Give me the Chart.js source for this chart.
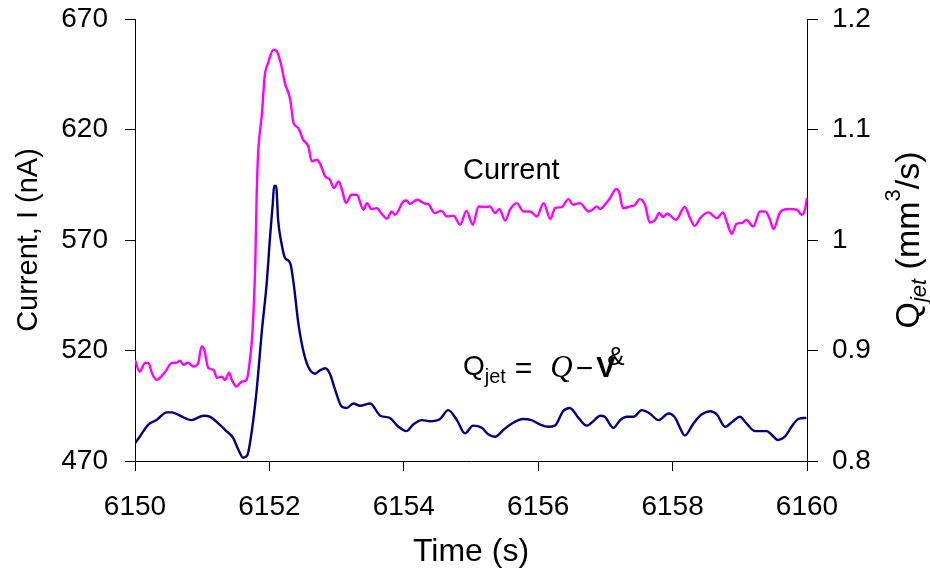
<!DOCTYPE html>
<html>
<head>
<meta charset="utf-8">
<script src="https://cdn.jsdelivr.net/npm/chart.js@4.4.1/dist/chart.umd.min.js"></script>
<style>
html,body{margin:0;padding:0;background:#ffffff;}
#wrap{width:930px;height:576px;}
</style>
</head>
<body>
<div id="wrap"><canvas id="c" width="930" height="576"></canvas></div>
<script>
// ---- Data ----
const currentTime = [
  6150.00,6150.07,6150.15,6150.20,6150.25,6150.32,6150.37,6150.45,6150.55,6150.62,
  6150.67,6150.72,6150.79,6150.87,6150.94,6150.99,6151.03,6151.09,6151.17,6151.22,
  6151.29,6151.34,6151.40,6151.44,6151.51,6151.59,6151.66,6151.71,6151.75,6151.79,
  6151.81,6151.83,6151.89,6151.93,6151.98,6152.06,6152.11,6152.18,6152.23,6152.31,
  6152.36,6152.43,6152.50,6152.58,6152.63,6152.70,6152.75,6152.83,6152.90,6152.96,
  6153.03,6153.08,6153.14,6153.22,6153.30,6153.40,6153.45,6153.52,6153.60,6153.67,
  6153.75,6153.82,6153.87,6153.99,6154.04,6154.09,6154.20,6154.32,6154.36,6154.46,
  6154.56,6154.64,6154.74,6154.84,6154.93,6155.03,6155.11,6155.21,6155.28,6155.36,
  6155.42,6155.51,6155.58,6155.68,6155.78,6155.88,6155.98,6156.08,6156.18,6156.25,
  6156.35,6156.45,6156.52,6156.62,6156.75,6156.82,6156.87,6156.92,6156.99,6157.07,
  6157.16,6157.21,6157.26,6157.37,6157.44,6157.51,6157.59,6157.66,6157.74,6157.80,
  6157.86,6157.92,6158.05,6158.18,6158.26,6158.33,6158.41,6158.53,6158.66,6158.75,
  6158.81,6158.88,6158.95,6159.03,6159.10,6159.20,6159.30,6159.38,6159.45,6159.50,
  6159.60,6159.72,6159.85,6159.92,6159.97,6160.00
];
const currentValues = [
  515.7,510.4,514.4,514.4,509.9,506.7,507.6,510.4,514.4,514.5,
  515.4,513.5,514.5,512.7,514.2,521.8,520.3,512.1,511.2,507.6,
  508.2,506.7,509.9,506.7,503.7,505.9,506.7,515.7,529.3,559.7,
  589.7,607.8,627.6,644.1,650.1,656.1,655.4,648.6,641.1,633.5,
  622.9,620.7,615.4,612.3,605.6,606.3,604.8,598.8,597.3,593.5,
  596.5,592.7,586.7,590.5,590.5,583.7,586.7,584.0,584.4,581.9,
  579.6,582.9,581.4,587.4,587.9,586.3,588.2,586.4,586.3,582.2,
  583.2,580.6,581.0,576.9,583.2,576.9,585.2,584.9,585.2,582.2,
  584.0,578.8,583.7,586.7,582.9,582.9,580.6,586.7,579.5,584.4,
  584.9,588.5,585.9,586.7,582.9,584.0,585.2,584.0,585.9,589.0,
  593.1,591.2,584.4,585.2,585.9,588.5,585.9,577.9,579.1,582.2,
  580.4,581.9,579.1,584.9,579.9,576.4,579.9,582.5,579.9,582.5,
  577.9,572.8,577.3,577.7,579.1,576.1,582.9,582.9,579.1,574.9,
  582.5,584.0,583.7,581.4,583.7,589.0
];
const qTime = [
  6150.00,6150.07,6150.20,6150.32,6150.47,6150.55,6150.67,6150.84,6151.02,6151.12,
  6151.24,6151.36,6151.46,6151.54,6151.61,6151.67,6151.74,6151.81,6151.89,6151.96,
  6152.01,6152.05,6152.07,6152.10,6152.13,6152.18,6152.23,6152.31,6152.36,6152.43,
  6152.50,6152.58,6152.68,6152.75,6152.83,6152.90,6152.98,6153.08,6153.15,6153.25,
  6153.35,6153.50,6153.65,6153.79,6153.92,6154.04,6154.14,6154.27,6154.39,6154.54,
  6154.66,6154.79,6154.91,6155.03,6155.16,6155.26,6155.36,6155.48,6155.61,6155.78,
  6155.90,6156.03,6156.15,6156.25,6156.37,6156.47,6156.60,6156.72,6156.82,6156.92,
  6156.99,6157.12,6157.22,6157.32,6157.42,6157.54,6157.66,6157.79,6157.94,6158.04,
  6158.11,6158.18,6158.31,6158.43,6158.56,6158.66,6158.78,6158.90,6159.00,6159.10,
  6159.23,6159.40,6159.47,6159.57,6159.67,6159.77,6159.87,6159.99
];
const qValues = [
  0.816,0.822,0.833,0.837,0.844,0.844,0.841,0.837,0.841,0.840,
  0.834,0.827,0.821,0.810,0.803,0.805,0.828,0.864,0.919,0.961,
  1.003,1.033,1.049,1.049,1.018,0.997,0.984,0.979,0.961,0.925,
  0.901,0.885,0.879,0.882,0.884,0.879,0.864,0.849,0.848,0.852,
  0.850,0.852,0.841,0.839,0.831,0.827,0.833,0.837,0.836,0.838,
  0.846,0.837,0.825,0.832,0.830,0.824,0.822,0.828,0.834,0.838,
  0.837,0.833,0.831,0.832,0.845,0.848,0.839,0.832,0.836,0.841,
  0.840,0.830,0.837,0.840,0.840,0.846,0.843,0.837,0.843,0.839,
  0.830,0.823,0.834,0.842,0.845,0.842,0.831,0.836,0.840,0.834,
  0.827,0.827,0.824,0.819,0.822,0.831,0.838,0.839
];
const timeTicks = [6150, 6152, 6154, 6156, 6158, 6160];
const currentTicks = [470, 520, 570, 620, 670];
const qTicks = [0.8, 0.9, 1.0, 1.1, 1.2];
const seriesNames = ['Current', 'Qjet'];
const xTitle = 'Time (s)';
const yTitle = 'Current, I (nA)';

// ---- Build datasets ----
const n1 = Math.min(currentTime.length, currentValues.length);
const currentData = [];
for (let i = 0; i < n1; i++) currentData.push({x: currentTime[i], y: currentValues[i]});
const n2 = Math.min(qTime.length, qValues.length);
const qData = [];
for (let i = 0; i < n2; i++) qData.push({x: qTime[i], y: qValues[i]});

const SANS = '"Liberation Sans", Arial, Helvetica, sans-serif';
const SERIF = '"Liberation Serif", "Times New Roman", serif';

const annotations = {
  id: 'annotations',
  afterDraw(chart) {
    const ctx = chart.ctx;
    const xs = chart.scales.x, ys = chart.scales.y, ys1 = chart.scales.y1;
    ctx.save();
    ctx.fillStyle = '#000';
    ctx.textAlign = 'left';
    ctx.textBaseline = 'alphabetic';

    // "Current" label
    ctx.font = '29px ' + SANS;
    ctx.fillText(seriesNames[0], xs.getPixelForValue(6154.88), ys.getPixelForValue(597.7));

    // Formula label: Q_jet = Q − V&
    let fx = xs.getPixelForValue(6154.88);
    const fb = ys1.getPixelForValue(0.878);
    ctx.font = '28px ' + SANS;
    ctx.fillText('Q', fx, fb);
    fx += ctx.measureText('Q').width;
    ctx.font = '20px ' + SANS;
    ctx.fillText('jet', fx, fb + 8);
    fx += ctx.measureText('jet').width + 9;
    ctx.font = '30px ' + SANS;
    ctx.fillText('=', fx, fb + 3);
    fx += ctx.measureText('=').width + 18;
    ctx.font = 'italic 31px ' + SERIF;
    ctx.fillText('Q', fx, fb + 2);
    fx += ctx.measureText('Q').width + 3;
    ctx.font = '30px ' + SANS;
    ctx.fillText('\u2212', fx, fb + 3);
    fx += ctx.measureText('\u2212').width + 3;
    ctx.font = 'bold 29px ' + SANS;
    ctx.fillText('V', fx, fb + 2);
    ctx.font = '26px ' + SANS;
    ctx.fillText('&', fx + 11, fb - 10);

    // Right axis title: Q_jet (mm^3/s)
    const cx = 919, cy = (chart.chartArea.top + chart.chartArea.bottom) / 2;
    const pieces = [
      ['Q', '34px ' + SANS, 0],
      ['jet', 'italic 22px ' + SANS, 7],
      [' (mm', '34px ' + SANS, 0],
      ['3', '22px ' + SANS, -19],
      ['/s)', '34px ' + SANS, 0]
    ];
    let total = 0;
    for (const p of pieces) { ctx.font = p[1]; total += ctx.measureText(p[0]).width; }
    ctx.translate(cx, cy);
    ctx.rotate(-Math.PI / 2);
    let px = -total / 2;
    for (const p of pieces) {
      ctx.font = p[1];
      ctx.fillText(p[0], px, p[2]);
      px += ctx.measureText(p[0]).width;
    }
    ctx.restore();
  }
};

Chart.defaults.font.family = SANS;
Chart.defaults.color = '#000';

new Chart(document.getElementById('c'), {
  type: 'line',
  data: {
    datasets: [
      {
        label: seriesNames[0],
        data: currentData,
        yAxisID: 'y',
        borderColor: '#FF00FF',
        borderWidth: 2.4,
        pointRadius: 0,
        fill: false,
        cubicInterpolationMode: 'monotone'
      },
      {
        label: seriesNames[1],
        data: qData,
        yAxisID: 'y1',
        borderColor: '#000080',
        borderWidth: 2.4,
        pointRadius: 0,
        fill: false,
        cubicInterpolationMode: 'monotone'
      }
    ]
  },
  options: {
    responsive: false,
    animation: false,
    devicePixelRatio: 1,
    layout: { padding: { top: 19, left: 0, right: 0, bottom: 0 } },
    plugins: { legend: { display: false }, tooltip: { enabled: false } },
    scales: {
      x: {
        type: 'linear',
        position: 'bottom',
        min: timeTicks[0],
        max: timeTicks[timeTicks.length - 1],
        afterBuildTicks: (s) => { s.ticks = timeTicks.map(v => ({value: v})); },
        ticks: { font: { size: 28 }, color: '#000', padding: 19, maxRotation: 0,
                 callback: (v) => String(v) },
        grid: { drawOnChartArea: false, drawTicks: true, tickLength: 10, color: '#000', lineWidth: 1 },
        border: { display: true, color: '#000', width: 1 },
        title: { display: true, text: xTitle, font: { size: 32 }, color: '#000', padding: { top: 0, bottom: 5 } },
        afterFit: (s) => { s.height = 115; s.paddingLeft = 0; s.paddingRight = 0; }
      },
      y: {
        position: 'left',
        min: currentTicks[0],
        max: currentTicks[currentTicks.length - 1],
        afterBuildTicks: (s) => { s.ticks = currentTicks.map(v => ({value: v})); },
        ticks: { font: { size: 28 }, color: '#000', padding: 17, callback: (v) => String(v) },
        grid: { drawOnChartArea: false, drawTicks: true, tickLength: 10, color: '#000', lineWidth: 1 },
        border: { display: true, color: '#000', width: 1 },
        title: { display: true, text: yTitle, font: { size: 29 }, color: '#000', padding: { top: 12, bottom: 0 } },
        afterFit: (s) => { s.width = 135; s.paddingTop = 0; s.paddingBottom = 0; }
      },
      y1: {
        position: 'right',
        min: qTicks[0],
        max: qTicks[qTicks.length - 1],
        afterBuildTicks: (s) => { s.ticks = qTicks.map(v => ({value: v})); },
        ticks: { font: { size: 28 }, color: '#000', padding: 14,
                 callback: (v) => String(Math.round(v * 10) / 10) },
        grid: { drawOnChartArea: false, drawTicks: true, tickLength: 11, color: '#000', lineWidth: 1 },
        border: { display: true, color: '#000', width: 1 },
        afterFit: (s) => { s.width = 123; s.paddingTop = 0; s.paddingBottom = 0; }
      }
    }
  },
  plugins: [annotations]
});
</script>
</body>
</html>
